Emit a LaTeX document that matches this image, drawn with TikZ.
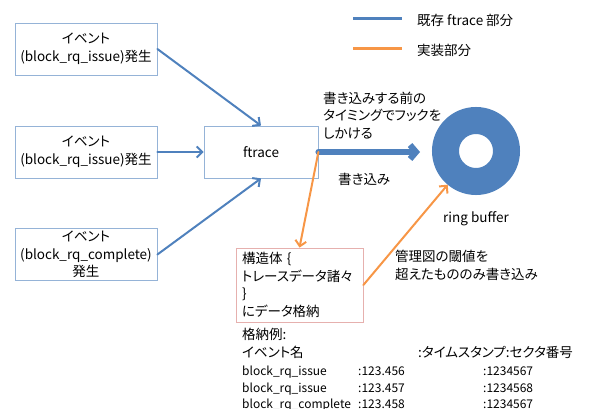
\documentclass[tikz,border=0pt]{standalone}
\usepackage{fontspec}
\setmainfont[RawFeature=+palt]{Noto Sans CJK JP}
\usetikzlibrary{
	arrows.meta,
	calc}

\definecolor{boxblue}{HTML}{95B3D7}
\definecolor{ftblue}{HTML}{4F81BD}
\definecolor{implorange}{HTML}{F79646}
\definecolor{structpink}{HTML}{E6B0AE}

\tikzset{
  txt/.style={font=\fontsize{13.5}{17.5}\selectfont, inner sep=0pt},
  eventbox/.style={txt, draw=boxblue, line width=0.8pt, minimum width=142pt,
    minimum height=52pt, align=center},
  ftarrow/.style={draw=ftblue, line width=2pt, line cap=round,
    -{Straight Barb[length=5.5pt,width=11pt]}},
  implarrow/.style={draw=implorange, line width=2pt, line cap=round,
    -{Straight Barb[length=5.5pt,width=11pt]}},
  tbl/.style={font=\fontsize{12}{14}\selectfont, inner sep=0pt, anchor=base west}
}

\begin{document}
\begin{tikzpicture}[x=1pt,y=-1pt]
      \useasboundingbox (0,0) rectangle (590,409);

      % legend
      \coordinate (LB1) at (353,19);
      \coordinate (LB2) at (402,19);
      \coordinate (LO1) at (353,49);
      \coordinate (LO2) at (402,49);
      \draw [ftblue, line width=3pt]     (LB1) -- (LB2);
      \draw [implorange, line width=3pt] (LO1) -- (LO2);
      \node [txt, anchor=west] (LBtxt) at (417,20) {既存 ftrace 部分};
      \node [txt, anchor=west] (LOtxt) at (417,50) {実装部分};

      % events
      \node [eventbox] (EV1) at (86,49)    {イベント\\(block\_rq\_issue)発生};
      \node [eventbox] (EV2) at (86,152)   {イベント\\(block\_rq\_issue)発生};
      \node [eventbox] (EV3) at (86,254.5) {イベント\\(block\_rq\_complete)\\発生};

      \node [eventbox, minimum width=114pt] (FT) at (261,152) {ftrace};

      \node [txt, draw=structpink, line width=0.8pt, minimum width=127pt,
        minimum height=74pt, text width=115pt, inner xsep=6pt, align=left]
        (ST) at (299.5,285) {構造体 \{\\トレースデータ諸々\\\}\\にデータ格納};

      % ring buffer
      \node [circle, draw=ftblue, line width=27pt, minimum size=61pt,
        inner sep=0pt] (RB) at (476,151) {};
      \node [txt] (RBtxt) at (476,219) {ring buffer};

      % labels
      \node [txt, anchor=west, align=left] (HOOK) at (323,115.5)
        {書き込みする前の\\タイミングでフックを\\しかける};
      \node [txt, anchor=west] (WR) at (338,179) {書き込み};
      \node [txt, anchor=west, align=left] (TH) at (395,265.5)
        {管理図の閾値を\\超えたもののみ書き込み};

      % example table
      \node [tbl, font=\fontsize{13.5}{15}\selectfont] (T0) at (242,340) {格納例:};
      \node [tbl, font=\fontsize{13.5}{15}\selectfont] (H1) at (242,358) {イベント名};
      \node [tbl, font=\fontsize{13.5}{15}\selectfont] (H2) at (418,358) {:タイムスタンプ:セクタ番号};
      \node [tbl] (R1a) at (242,375) {block\_rq\_issue};
      \node [tbl] (R1b) at (358,375) {:123.456};
      \node [tbl] (R1c) at (483,375) {:1234567};
      \node [tbl] (R2a) at (242,392) {block\_rq\_issue};
      \node [tbl] (R2b) at (358,392) {:123.457};
      \node [tbl] (R2c) at (483,392) {:1234568};
      \node [tbl] (R3a) at (242,408) {block\_rq\_complete};
      \node [tbl] (R3b) at (358,408) {:123.458};
      \node [tbl] (R3c) at (483,408) {:1234567};

      \draw [ftarrow] (EV1.east) to (FT.north);
      \draw [ftarrow] (EV2.east) to (FT.west);
      \draw [ftarrow] (EV3.east) to (FT.south);
      \draw [ftblue, line width=6pt, line cap=round, shorten >=12pt,
        -{Straight Barb[length=6pt,width=14pt]}] (FT.east) to (FT.east -| RB.west);
      \draw [implarrow] (FT.east) to (ST.north);
      \draw [implarrow] (ST.east) to (RB);
\end{tikzpicture}
\end{document}
